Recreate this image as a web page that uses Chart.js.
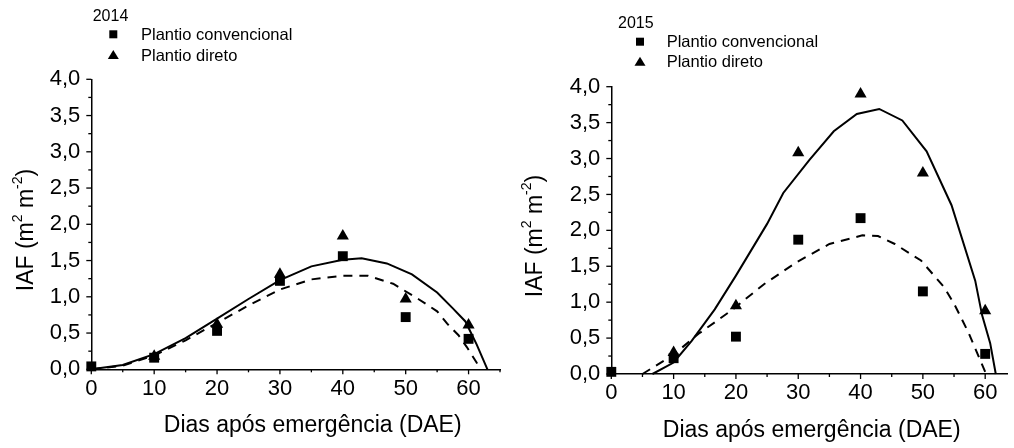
<!DOCTYPE html>
<html><head><meta charset="utf-8">
<script src="https://cdn.jsdelivr.net/npm/chart.js@4.4.1/dist/chart.umd.min.js"></script>
<style>
html,body{margin:0;padding:0;background:#fff;}
#wrap{position:relative;width:1014px;height:448px;overflow:hidden;background:#fff;}
canvas{position:absolute;top:0;}
</style></head><body>
<div id="wrap">
<canvas id="c1" width="507" height="448" style="left:0"></canvas>
<canvas id="c2" width="507" height="448" style="left:507px"></canvas>
</div>
<script>
// ---- data ----
const dae = [0, 10, 20, 30, 40, 50, 60];
const conv2014 = [0.04, 0.16, 0.53, 1.22, 1.56, 0.72, 0.42];
const direto2014 = [null, 0.18, 0.62, 1.31, 1.84, 0.97, 0.61];
const conv2015 = [0.03, 0.22, 0.52, 1.87, 2.17, 1.15, 0.28];
const direto2015 = [null, 0.30, 0.95, 3.08, 3.90, 2.80, 0.88];

// fitted curves (solid = plantio direto, dashed = plantio convencional)
const fitDiretoX2014 = [0, 5, 10, 15, 20, 25, 30, 35, 40, 43, 47, 51, 55, 57.5, 59.5, 61.3, 63];
const fitDiretoY2014 = [0, 0.06, 0.21, 0.43, 0.70, 0.97, 1.23, 1.42, 1.51, 1.53, 1.46, 1.31, 1.06, 0.84, 0.66, 0.34, 0];
const fitConvX2014 = [0, 5, 10, 15, 20, 25, 30, 35, 40, 44, 48, 52, 55, 56.6, 58.4, 59.7, 61.3, 62];
const fitConvY2014 = [0, 0.05, 0.19, 0.40, 0.64, 0.88, 1.10, 1.24, 1.29, 1.29, 1.18, 0.97, 0.80, 0.63, 0.47, 0.31, 0.09, 0];
const fitDiretoX2015 = [6.6, 10, 12.9, 16.6, 20, 25, 27.6, 31.8, 35.7, 39.4, 43, 46.7, 50.6, 54.6, 58.4, 59.5, 60.8, 61.7];
const fitDiretoY2015 = [0, 0.16, 0.46, 0.90, 1.37, 2.09, 2.52, 2.98, 3.38, 3.62, 3.69, 3.53, 3.10, 2.35, 1.30, 0.82, 0.43, 0];
const fitConvX2015 = [5, 10, 14, 19.2, 24.5, 29.8, 35, 40.3, 42.8, 45.5, 49.7, 53.4, 55, 57.3, 60, 60.2];
const fitConvY2015 = [0, 0.27, 0.56, 0.88, 1.25, 1.56, 1.81, 1.93, 1.92, 1.81, 1.58, 1.21, 0.98, 0.58, 0.03, 0];

const yTickLabels = ['0,0', '0,5', '1,0', '1,5', '2,0', '2,5', '3,0', '3,5', '4,0'];
const xTickLabels = ['0', '10', '20', '30', '40', '50', '60'];
const seriesNames = ['Plantio convencional', 'Plantio direto'];
const yearTitles = ['2014', '2015'];
const xTitle = 'Dias após emergência (DAE)';

const FONT = "'Liberation Sans', Arial, Helvetica, sans-serif";

function pts(xs, ys) {
  const out = [];
  xs.forEach((x, i) => { if (ys[i] !== null) out.push({ x: x, y: ys[i] }); });
  return out;
}

function decorPlugin(o) {
  return {
    id: 'decor',
    afterDraw(chart) {
      const ctx = chart.ctx;
      const xs = chart.scales.x, ys = chart.scales.y;
      const ca = chart.chartArea;
      ctx.save();
      ctx.strokeStyle = '#000';
      ctx.fillStyle = '#000';
      ctx.lineWidth = 1.3;
      // x ticks (major every 10, minor every 5), outward
      for (let v = 0; v <= xs.max + 1e-9; v += 5) {
        const px = xs.getPixelForValue(v);
        const len = (v % 10 === 0) ? 5 : 3;
        ctx.beginPath(); ctx.moveTo(px, ca.bottom); ctx.lineTo(px, ca.bottom + len); ctx.stroke();
      }
      // y ticks (major every 0.5, minor every 0.25)
      for (let i = 0; i <= 16; i++) {
        const py = ys.getPixelForValue(i * 0.25);
        const len = (i % 2 === 0) ? 5 : 3;
        ctx.beginPath(); ctx.moveTo(ca.left, py); ctx.lineTo(ca.left - len, py); ctx.stroke();
      }
      // y title with superscripts
      const segs = [['IAF (m', false], ['2', true], [' m', false], ['-2', true], [')', false]];
      const mainF = '23px ' + FONT, supF = '14px ' + FONT;
      let total = 0;
      segs.forEach(s => { ctx.font = s[1] ? supF : mainF; total += ctx.measureText(s[0]).width; });
      ctx.save();
      ctx.translate(o.yTitleX, o.yTitleY);
      ctx.rotate(-Math.PI / 2);
      ctx.textBaseline = 'middle';
      ctx.textAlign = 'left';
      let cx = -total / 2;
      segs.forEach(s => {
        ctx.font = s[1] ? supF : mainF;
        ctx.fillText(s[0], cx, s[1] ? -9 : 0);
        cx += ctx.measureText(s[0]).width;
      });
      ctx.restore();
      // x title
      ctx.font = '23px ' + FONT;
      ctx.textAlign = 'center';
      ctx.textBaseline = 'alphabetic';
      ctx.fillText(o.xTitle, o.xTitleX, o.xTitleY);
      // legend
      ctx.textAlign = 'left';
      ctx.font = '16px ' + FONT;
      ctx.fillText(o.year, o.yearX, o.yearY);
      ctx.font = '16.5px ' + FONT;
      ctx.textBaseline = 'middle';
      ctx.fillRect(o.legMarkX - 4, o.legY1 - 4, 8, 8);
      ctx.fillText(seriesNames[0], o.legTextX, o.legY1 + 1);
      ctx.beginPath();
      ctx.moveTo(o.legMarkX, o.legY2 - 5);
      ctx.lineTo(o.legMarkX + 5.5, o.legY2 + 4);
      ctx.lineTo(o.legMarkX - 5.5, o.legY2 + 4);
      ctx.closePath(); ctx.fill();
      ctx.fillText(seriesNames[1], o.legTextX, o.legY2 + 1);
      ctx.restore();
    }
  };
}

function makeChart(id, conv, direto, fdx, fdy, fcx, fcy, o) {
  const axisW = o.axisW, axisH = o.axisH;
  return new Chart(document.getElementById(id), {
    type: 'scatter',
    data: {
      datasets: [
        { label: seriesNames[0], data: pts(dae, conv), pointStyle: 'rect', pointRadius: 7,
          backgroundColor: '#000', borderColor: '#000', borderWidth: 0, order: 0, clip: false },
        { label: seriesNames[1], data: pts(dae, direto), pointStyle: 'triangle', pointRadius: 7,
          backgroundColor: '#000', borderColor: '#000', borderWidth: 0, order: 0, clip: false },
        { type: 'line', label: 'fit direto', data: pts(fdx, fdy), borderColor: '#000', borderWidth: 2,
          pointRadius: 0, fill: false, tension: 0, order: 1, clip: false },
        { type: 'line', label: 'fit convencional', data: pts(fcx, fcy), borderColor: '#000', borderWidth: 2,
          borderDash: [9, 7], pointRadius: 0, fill: false, tension: 0, order: 1, clip: false }
      ]
    },
    options: {
      responsive: false,
      devicePixelRatio: 1,
      animation: false,
      events: [],
      layout: { padding: { top: o.padTop, right: o.padRight, left: 0, bottom: 0 } },
      plugins: { legend: { display: false }, tooltip: { enabled: false } },
      scales: {
        x: {
          type: 'linear', min: 0, max: o.xMax,
          grid: { display: false, drawTicks: false },
          border: { display: true, color: '#000', width: 1.5 },
          afterFit: s => { s.height = axisH; },
          ticks: {
            stepSize: 10, includeBounds: false, autoSkip: false, maxRotation: 0, padding: 6,
            color: '#000', font: { family: FONT, size: 22 },
            callback: v => xTickLabels[Math.round(v / 10)]
          }
        },
        y: {
          type: 'linear', min: 0, max: 4,
          grid: { display: false, drawTicks: false },
          border: { display: true, color: '#000', width: 1.5 },
          afterFit: s => { s.width = axisW; },
          ticks: {
            stepSize: 0.5, includeBounds: false, autoSkip: false, padding: o.yPad,
            color: '#000', font: { family: FONT, size: 22 },
            callback: v => yTickLabels[Math.round(v / 0.5)]
          }
        }
      }
    },
    plugins: [decorPlugin(o)]
  });
}

makeChart('c1', conv2014, direto2014, fitDiretoX2014, fitDiretoY2014, fitConvX2014, fitConvY2014, {
  axisW: 91.3, axisH: 448 - 369.3, padTop: 79.3, padRight: 507 - 503.3, xMax: 65, yPad: 11,
  yTitleX: 27, yTitleY: 230, xTitle: xTitle, xTitleX: 312.7, xTitleY: 431.5,
  year: yearTitles[0], yearX: 92.7, yearY: 20.5, legMarkX: 113.3, legY1: 34.3, legY2: 55, legTextX: 141
});
makeChart('c2', conv2015, direto2015, fitDiretoX2015, fitDiretoY2015, fitConvX2015, fitConvY2015, {
  axisW: 611.3 - 507, axisH: 448 - 374, padTop: 86.7, padRight: 0, xMax: 63.5, yPad: 11,
  yTitleX: 536 - 507, yTitleY: 236, xTitle: xTitle, xTitleX: 811.7 - 507, xTitleY: 436.5,
  year: yearTitles[1], yearX: 618 - 507, yearY: 27.5, legMarkX: 640 - 507, legY1: 41.7, legY2: 61.7, legTextX: 666.7 - 507
});
</script>
</body></html>
